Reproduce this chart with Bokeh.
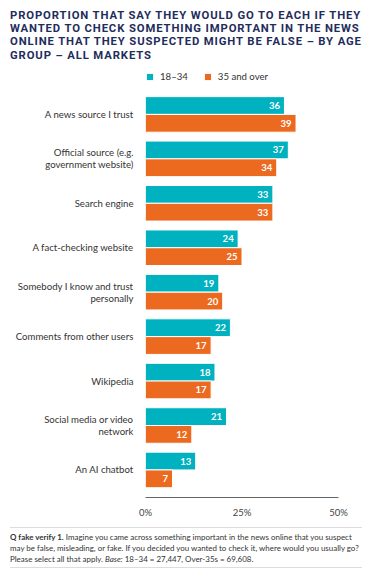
from bokeh.plotting import figure
from bokeh.models import (ColumnDataSource, Range1d, FixedTicker,
                          PrintfTickFormatter, Legend, LegendItem, Div)
from bokeh.layouts import column
from bokeh.transform import dodge
from bokeh.core.properties import value
from bokeh.embed import file_html
from bokeh.resources import INLINE

# ---- data ----
categories = [
    "A news source I trust",
    "Official source (e.g.\ngovernment website)",
    "Search engine",
    "A fact-checking website",
    "Somebody I know and trust\npersonally",
    "Comments from other users",
    "Wikipedia",
    "Social media or video\nnetwork",
    "An AI chatbot",
]
young = [36, 37, 33, 24, 19, 22, 18, 21, 13]
older = [39, 34, 33, 25, 20, 17, 17, 12, 7]
series_names = ["18\u201334", "35 and over"]
x_ticks = [0, 25, 50]

TEAL = "#00b2bf"
ORANGE = "#ec6a1f"
NAVY = "#1f2d5c"
TEXT = "#333333"

n = len(categories)
pos = [float(n - 1 - i) for i in range(n)]   # top category highest

source = ColumnDataSource(data=dict(
    cat=categories,
    pos=pos,
    young=young,
    older=older,
    young_lbl=[str(v) for v in young],
    older_lbl=[str(v) for v in older],
))

FIG_H = 458
B_TOP = 4
B_BOT = 20

p = figure(
    width=374, height=FIG_H,
    y_range=Range1d(-0.62, n - 1 + 1.078),
    x_range=Range1d(0, 50),
    output_backend="svg", toolbar_location=None, title=None,
    min_border_left=145, min_border_right=36,
    min_border_top=B_TOP, min_border_bottom=B_BOT,
)

b1 = p.hbar(y=dodge("pos", 0.2), right="young", left=0,
            height=0.4, source=source, fill_color=TEAL,
            line_color="white", line_width=1)
b2 = p.hbar(y=dodge("pos", -0.2), right="older", left=0,
            height=0.4, source=source, fill_color=ORANGE,
            line_color="white", line_width=1)

p.text(x="young", y=dodge("pos", 0.2), text="young_lbl",
       source=source, x_offset=-4.5, text_align="right", text_baseline="middle",
       text_color="white", text_font=value("Lato"), text_font_style="bold",
       text_font_size="9.5px")
p.text(x="older", y=dodge("pos", -0.2), text="older_lbl",
       source=source, x_offset=-4.5, text_align="right", text_baseline="middle",
       text_color="white", text_font=value("Lato"), text_font_style="bold",
       text_font_size="9.5px")

# x axis
p.xaxis.ticker = FixedTicker(ticks=x_ticks)
p.xaxis.formatter = PrintfTickFormatter(format="%d%%")
p.xaxis.major_tick_line_color = None
p.xaxis.minor_tick_line_color = None
p.xaxis.axis_line_color = "#666666"
p.xaxis.axis_line_width = 1
p.xaxis.major_label_standoff = 3
p.xaxis.major_label_text_font = "Lato"
p.xaxis.major_label_text_font_size = "9.5px"
p.xaxis.major_label_text_color = "#444444"

# y axis (category labels)
p.yaxis.ticker = FixedTicker(ticks=pos)
p.yaxis.major_label_overrides = {pv: c for pv, c in zip(pos, categories)}
p.yaxis.axis_line_color = None
p.yaxis.major_tick_line_color = None
p.yaxis.minor_tick_line_color = None
p.yaxis.major_label_standoff = 6
p.yaxis.major_label_text_font = "Lato"
p.yaxis.major_label_text_font_size = "9.6px"
p.yaxis.major_label_text_color = TEXT
p.yaxis.major_label_text_line_height = 1.1

p.xgrid.grid_line_color = None
p.ygrid.grid_line_color = None
p.outline_line_color = None

legend = Legend(
    items=[LegendItem(label=series_names[0], renderers=[b1]),
           LegendItem(label=series_names[1], renderers=[b2])],
    orientation="horizontal", location=(0, 415),
    glyph_width=9, glyph_height=9, label_height=10, label_standoff=6,
    spacing=15, padding=0, margin=0, border_line_color=None,
    label_text_font="Lato", label_text_font_size="9.6px",
    label_text_color=TEXT, background_fill_alpha=0,
)
p.add_layout(legend)

title_html = (
    "<div style=\"font-family:Roboto;font-weight:700;font-size:11.3px;"
    "letter-spacing:0.88px;line-height:13.35px;color:%s;padding-left:10px;"
    "padding-top:8.5px;white-space:nowrap;\">"
    "PROPORTION THAT SAY THEY WOULD GO TO EACH IF THEY<br>"
    "WANTED TO CHECK SOMETHING IMPORTANT IN THE NEWS<br>"
    "ONLINE THAT THEY SUSPECTED MIGHT BE FALSE \u2013 BY AGE<br>"
    "GROUP \u2013 ALL MARKETS</div>" % NAVY
)
title_div = Div(text=title_html, width=374, height=62, margin=(0, 0, 0, 0))

foot_html = (
    "<div style=\"margin-top:7px;margin-left:10px;width:352px;"
    "border-top:1.5px solid #dddddd;border-bottom:1.5px solid #dddddd;"
    "padding-top:3.5px;padding-bottom:2px;font-family:Lato;font-size:7.95px;"
    "line-height:11.3px;color:#333333;white-space:nowrap;\">"
    "<b>Q fake verify 1.</b> Imagine you came across something important in the news online that you suspect<br>"
    "may be false, misleading, or fake. If you decided you wanted to check it, where would you usually go?<br>"
    "Please select all that apply. <i>Base:</i> 18\u201334 = 27,447, Over-35s = 69,608.</div>"
)
foot_div = Div(text=foot_html, width=374, height=67, margin=(0, 0, 0, 0))

layout = column(title_div, p, foot_div, spacing=0)

open("out.html", "w").write(file_html(layout, INLINE, title="chart"))
